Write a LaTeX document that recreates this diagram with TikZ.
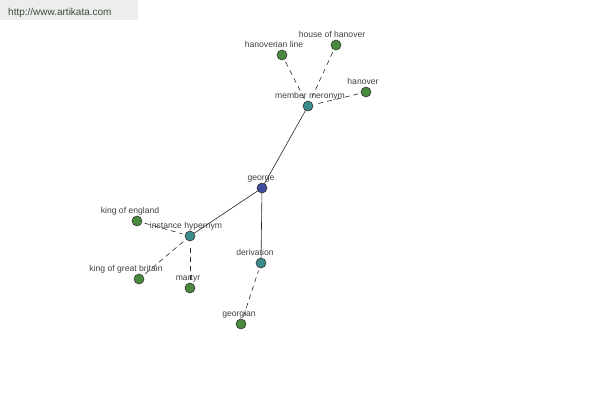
\documentclass[tikz,border=0pt]{standalone}
\usepackage{fontspec}
\setmainfont{Liberation Sans}
\definecolor{leafgreen}{HTML}{4A8A3E}
\definecolor{relteal}{HTML}{3A8C8A}
\definecolor{rootblue}{HTML}{3E4C9C}
\definecolor{wmtext}{HTML}{3A4A3A}
\begin{document}
\begin{tikzpicture}[x=1pt,y=-1pt,
  vnode/.style={circle,draw=black!80,line width=0.6pt,minimum size=10pt,inner sep=0pt},
  leaf/.style={vnode,fill=leafgreen},
  rel/.style={vnode,fill=relteal},
  root/.style={vnode,fill=rootblue},
  lbl/.style={font=\fontsize{8.6}{9}\selectfont,text=black!75,inner sep=0pt,anchor=base},
  solidedge/.style={draw=black!85,line width=0.6pt},
  dashedge/.style={draw=black!85,line width=0.6pt,dash pattern=on 5pt off 4pt,shorten <=8pt,shorten >=8pt}]
\useasboundingbox (0,0) rectangle (600,400);
\fill[black!7] (0,0) rectangle (138,20);
\node[font=\fontsize{10}{12}\selectfont,text=wmtext,anchor=base west,inner sep=0pt] (wm) at (8,15) {http://www.artikata.com};
% node positions
\coordinate (pG) at (262,188);
\coordinate (pMM) at (308,106);
\coordinate (pHL) at (282,55);
\coordinate (pHH) at (336,45);
\coordinate (pH) at (366,92);
\coordinate (pIH) at (190,236);
\coordinate (pKE) at (137,221);
\coordinate (pKG) at (139,279);
\coordinate (pM) at (190,288);
\coordinate (pD) at (261,263);
\coordinate (pGe) at (241,324);
% edges
\draw[solidedge] (pG) -- (pMM);
\draw[solidedge] (pG) -- (pIH);
\draw[solidedge] (pG) -- (pD);
\draw[dashedge] (pHL) -- (pMM);
\draw[dashedge] (pHH) -- (pMM);
\draw[dashedge] (pH) -- (pMM);
\draw[dashedge] (pKE) -- (pIH);
\draw[dashedge] (pKG) -- (pIH);
\draw[dashedge] (pM) -- (pIH);
\draw[dashedge] (pGe) -- (pD);
% circles
\node[root] (g) at (pG) {};
\node[rel] (mm) at (pMM) {};
\node[leaf] (hl) at (pHL) {};
\node[leaf] (hh) at (pHH) {};
\node[leaf] (h) at (pH) {};
\node[rel] (ih) at (pIH) {};
\node[leaf] (ke) at (pKE) {};
\node[leaf] (kg) at (pKG) {};
\node[leaf] (m) at (pM) {};
\node[rel] (d) at (pD) {};
\node[leaf] (ge) at (pGe) {};
% labels
\node[lbl] (lg) at (261,180) {george};
\node[lbl] (lmm) at (310,98) {member meronym};
\node[lbl] (lhl) at (274,47) {hanoverian line};
\node[lbl] (lhh) at (332,37) {house of hanover};
\node[lbl] (lh) at (363,84) {hanover};
\node[lbl] (lih) at (186,228) {instance hypernym};
\node[lbl] (lke) at (130,213) {king of england};
\node[lbl] (lkg) at (126,271) {king of great britain};
\node[lbl] (lm) at (188,280) {martyr};
\node[lbl] (ld) at (255,255) {derivation};
\node[lbl] (lge) at (239,316) {georgian};
\end{tikzpicture}
\end{document}
